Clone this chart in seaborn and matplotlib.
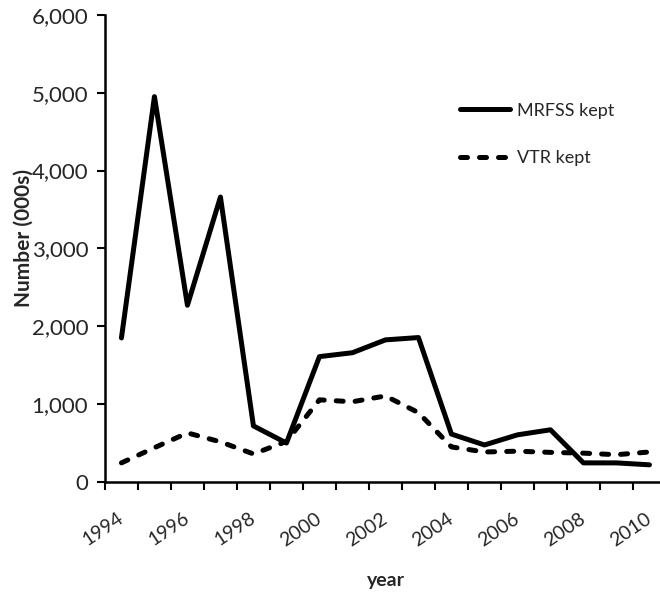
import numpy as np
import pandas as pd
import matplotlib
matplotlib.use("Agg")
import matplotlib.pyplot as plt
from matplotlib.ticker import FuncFormatter, FixedLocator
import seaborn as sns

# data (thousands of fish)
years = [1994, 1995, 1996, 1997, 1998, 1999, 2000, 2001, 2002,
         2003, 2004, 2005, 2006, 2007, 2008, 2009, 2010]
mrfss_kept = [1850, 4950, 2270, 3660, 720, 500, 1610, 1660, 1825,
              1855, 615, 475, 605, 670, 245, 245, 220]
vtr_kept = [245, 440, 630, 515, 360, 520, 1055, 1030, 1105,
            890, 450, 385, 395, 380, 370, 350, 385]
tick_years = ["1994", "1996", "1998", "2000", "2002", "2004", "2006", "2008", "2010"]

sns.set_style("ticks")
plt.rcParams["font.family"] = ["Lato", "DejaVu Sans"]

df = pd.DataFrame({
    "pos": np.arange(len(years)),
    "MRFSS kept": mrfss_kept,
    "VTR kept": vtr_kept,
})

fig = plt.figure(figsize=(6.6, 5.95), dpi=100)
ax = fig.add_axes([0.159, 0.190, 0.85, 0.785])

sns.lineplot(data=df, x="pos", y="MRFSS kept", ax=ax, color="black",
             linewidth=3.6, label="MRFSS kept")
sns.lineplot(data=df, x="pos", y="VTR kept", ax=ax, color="black",
             linewidth=3.6, label="VTR kept")
vtr_line = ax.lines[1]
vtr_line.set_dashes((1.4, 2.4))
vtr_line.set_dash_capstyle("round")

ax.set_xlim(-0.5, len(years) - 0.5)
ax.set_ylim(0, 6000)
ax.set_yticks(range(0, 6001, 1000))
ax.yaxis.set_major_formatter(FuncFormatter(lambda v, p: f"{int(v):,}"))

# category axis: ticks between categories, labels every other year
ax.xaxis.set_major_locator(FixedLocator([years.index(int(t)) for t in tick_years]))
ax.set_xticklabels(tick_years, rotation=34, ha="right", va="center",
                   rotation_mode="anchor", fontsize=14)
ax.xaxis.set_minor_locator(FixedLocator(np.arange(-0.5, len(years), 1.0)))
ax.tick_params(axis="x", which="major", length=0, pad=25)
ax.tick_params(axis="x", which="minor", length=6, width=1.5, color="black")
ax.tick_params(axis="y", length=6, width=1.5, labelsize=16, pad=6, color="black")

for side in ("top", "right"):
    ax.spines[side].set_visible(False)
for side in ("left", "bottom"):
    ax.spines[side].set_linewidth(1.8)
    ax.spines[side].set_color("black")

ax.set_xlabel("year", fontsize=14, fontweight="bold")
ax.xaxis.label.set_va("center")
ax.xaxis.set_label_coords(0.5, -0.212)
ax.set_ylabel("Number (000s)", fontsize=15, fontweight="bold")
ax.yaxis.label.set_va("center")
ax.yaxis.set_label_coords(-0.145, 0.522)

leg = ax.legend(loc="upper left", bbox_to_anchor=(0.672, 0.855), bbox_transform=fig.transFigure,
                frameon=False, fontsize=13, handlelength=2.8, handletextpad=0.35,
                labelspacing=1.75)
for h in leg.get_lines():
    h.set_linewidth(3.6)
leg.get_lines()[1].set_dashes((1.4, 2.4))
leg.get_lines()[1].set_dash_capstyle("round")

fig.savefig("out.png", dpi=100)
